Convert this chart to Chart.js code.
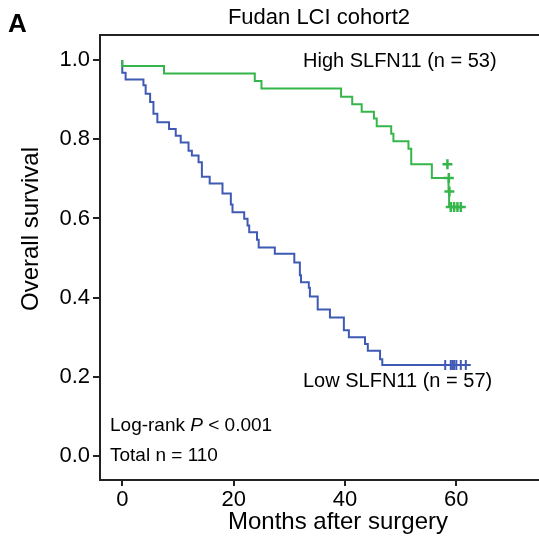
<!DOCTYPE html>
<html>
<head>
<meta charset="utf-8">
<script src="https://cdn.jsdelivr.net/npm/chart.js@4/dist/chart.umd.min.js"></script>
<style>
  html, body { margin: 0; padding: 0; background: #fff; }
  #wrap { width: 539px; height: 540px; }
</style>
</head>
<body>
<div id="wrap"><canvas id="km_chart" width="539" height="540"></canvas></div>
<script>
// Kaplan-Meier steps (time in months, survival after the drop)
const lowTimes = [0, 0.6, 3.8, 4.2, 5.0, 5.6, 6.3, 8.4, 9.6, 10.5, 11.9, 12.5, 13.7, 14.3, 15.7, 18.0, 19.5, 19.8,
  21.9, 22.5, 22.8, 24.2, 24.5, 27.4, 30.9, 31.9, 32.1, 33.5, 33.7, 35.1, 37.3, 39.8, 40.7, 43.6, 44.1, 46.3, 46.7, 53.3, 61.7];
const lowSurv = [1, 0.968, 0.951, 0.936, 0.915, 0.894, 0.864, 0.843, 0.826, 0.809, 0.792, 0.771, 0.759, 0.742, 0.705, 0.688, 0.663, 0.635,
  0.616, 0.599, 0.582, 0.565, 0.546, 0.527, 0.511, 0.489, 0.457, 0.439, 0.425, 0.403, 0.370, 0.350, 0.318, 0.300, 0.283, 0.266, 0.245, 0.230, 0.230];

const highTimes = [0, 7.5, 23.8, 25.0, 39.3, 41.3, 43.0, 45.2, 45.7, 48.3, 48.7, 51.4, 51.9, 55.6, 58.6, 58.7, 58.8, 61.5];
const highSurv = [1, 0.985, 0.966, 0.947, 0.928, 0.907, 0.888, 0.869, 0.852, 0.833, 0.814, 0.795, 0.776, 0.737, 0.702, 0.668, 0.629, 0.629];

// censored patients (tick marks)
const lowCensorTimes = [58.0, 59.0, 59.3, 59.6, 60.0, 60.8, 61.7];
const lowCensorSurv = [0.230, 0.230, 0.230, 0.230, 0.230, 0.230, 0.230];
const highCensorTimes = [58.4, 58.65, 58.75, 59.0, 59.6, 60.2, 60.8];
const highCensorSurv = [0.737, 0.702, 0.668, 0.629, 0.629, 0.629, 0.629];

const xTicks = [0, 20, 40, 60];
const yTicks = [0, 0.2, 0.4, 0.6, 0.8, 1.0];

const blue = '#3f5ab4';
const green = '#35b64b';
const font = '"Liberation Sans", Arial, sans-serif';

function toPoints(xs, ys) {
  return xs.map((x, i) => ({x: x, y: ys[i]}));
}

// texts, frame lines, axis titles
const extras = {
  id: 'extras',
  afterDraw(chart) {
    const ctx = chart.ctx;
    const area = chart.chartArea;
    ctx.save();
    ctx.fillStyle = '#000';
    ctx.strokeStyle = '#222';
    ctx.lineWidth = 2;
    ctx.beginPath();
    ctx.moveTo(area.left - 1, area.top);
    ctx.lineTo(chart.width, area.top);
    ctx.moveTo(area.left - 1, area.bottom);
    ctx.lineTo(chart.width, area.bottom);
    ctx.stroke();

    ctx.textBaseline = 'middle';
    ctx.font = 'bold 26px ' + font;
    ctx.textAlign = 'left';
    ctx.fillText('A', 8, 25);

    ctx.font = '22px ' + font;
    ctx.textAlign = 'center';
    ctx.fillText('Fudan LCI cohort2', 319, 18);

    ctx.font = '24px ' + font;
    ctx.fillText('Months after surgery', 338, 522);
    ctx.save();
    ctx.translate(31, 229);
    ctx.rotate(-Math.PI / 2);
    ctx.fillText('Overall survival', 0, 0);
    ctx.restore();

    ctx.textAlign = 'left';
    ctx.font = '20px ' + font;
    ctx.fillText('High SLFN11 (n = 53)', 303, 61);
    ctx.fillText('Low SLFN11 (n = 57)', 303, 381);

    ctx.font = '19px ' + font;
    let x = 110;
    ctx.fillText('Log-rank ', x, 426);
    x += ctx.measureText('Log-rank ').width;
    ctx.font = 'italic 19px ' + font;
    ctx.fillText('P', x, 426);
    x += ctx.measureText('P').width;
    ctx.font = '19px ' + font;
    ctx.fillText(' < 0.001', x, 426);
    ctx.fillText('Total n = 110', 110, 456);
    ctx.restore();
  }
};

const myChart = document.getElementById('km_chart');

let kmChart = new Chart(myChart, {
  type: 'line',
  data: {
    datasets: [
      {
        label: 'High SLFN11',
        data: toPoints(highTimes, highSurv),
        borderColor: green,
        borderWidth: 2,
        stepped: 'after',
        pointRadius: 0,
        fill: false
      },
      {
        label: 'Low SLFN11',
        data: toPoints(lowTimes, lowSurv),
        borderColor: blue,
        borderWidth: 2,
        stepped: 'after',
        pointRadius: 0,
        fill: false
      },
      {
        label: 'High censored',
        data: toPoints(highCensorTimes, highCensorSurv),
        showLine: false,
        pointStyle: 'cross',
        pointRadius: 5,
        pointBorderWidth: 2.5,
        borderColor: green
      },
      {
        label: 'Low censored',
        data: toPoints(lowCensorTimes, lowCensorSurv),
        showLine: false,
        pointStyle: 'cross',
        pointRadius: 5,
        pointBorderWidth: 2,
        borderColor: blue
      }
    ]
  },
  options: {
    responsive: false,
    animation: false,
    layout: {padding: {top: 35, right: 0, left: 0, bottom: 0}},
    plugins: {legend: {display: false}, tooltip: {enabled: false}},
    scales: {
      x: {
        type: 'linear',
        min: -4,
        max: 73.5,
        afterBuildTicks: s => { s.ticks = xTicks.map(v => ({value: v})); },
        afterFit: s => { s.height = 60; },
        grid: {drawOnChartArea: false, tickLength: 6, color: '#222', lineWidth: 2},
        border: {color: '#222', width: 2},
        ticks: {color: '#000', font: {family: font, size: 22}, padding: 1, maxRotation: 0}
      },
      y: {
        min: -0.06,
        max: 1.063,
        afterBuildTicks: s => { s.ticks = yTicks.map(v => ({value: v})); },
        afterFit: s => { s.width = 100; },
        grid: {drawOnChartArea: false, tickLength: 7, color: '#222', lineWidth: 2},
        border: {color: '#222', width: 2},
        ticks: {color: '#000', font: {family: font, size: 22}, padding: 3, callback: v => v.toFixed(1)}
      }
    }
  },
  plugins: [extras]
});
</script>
</body>
</html>
